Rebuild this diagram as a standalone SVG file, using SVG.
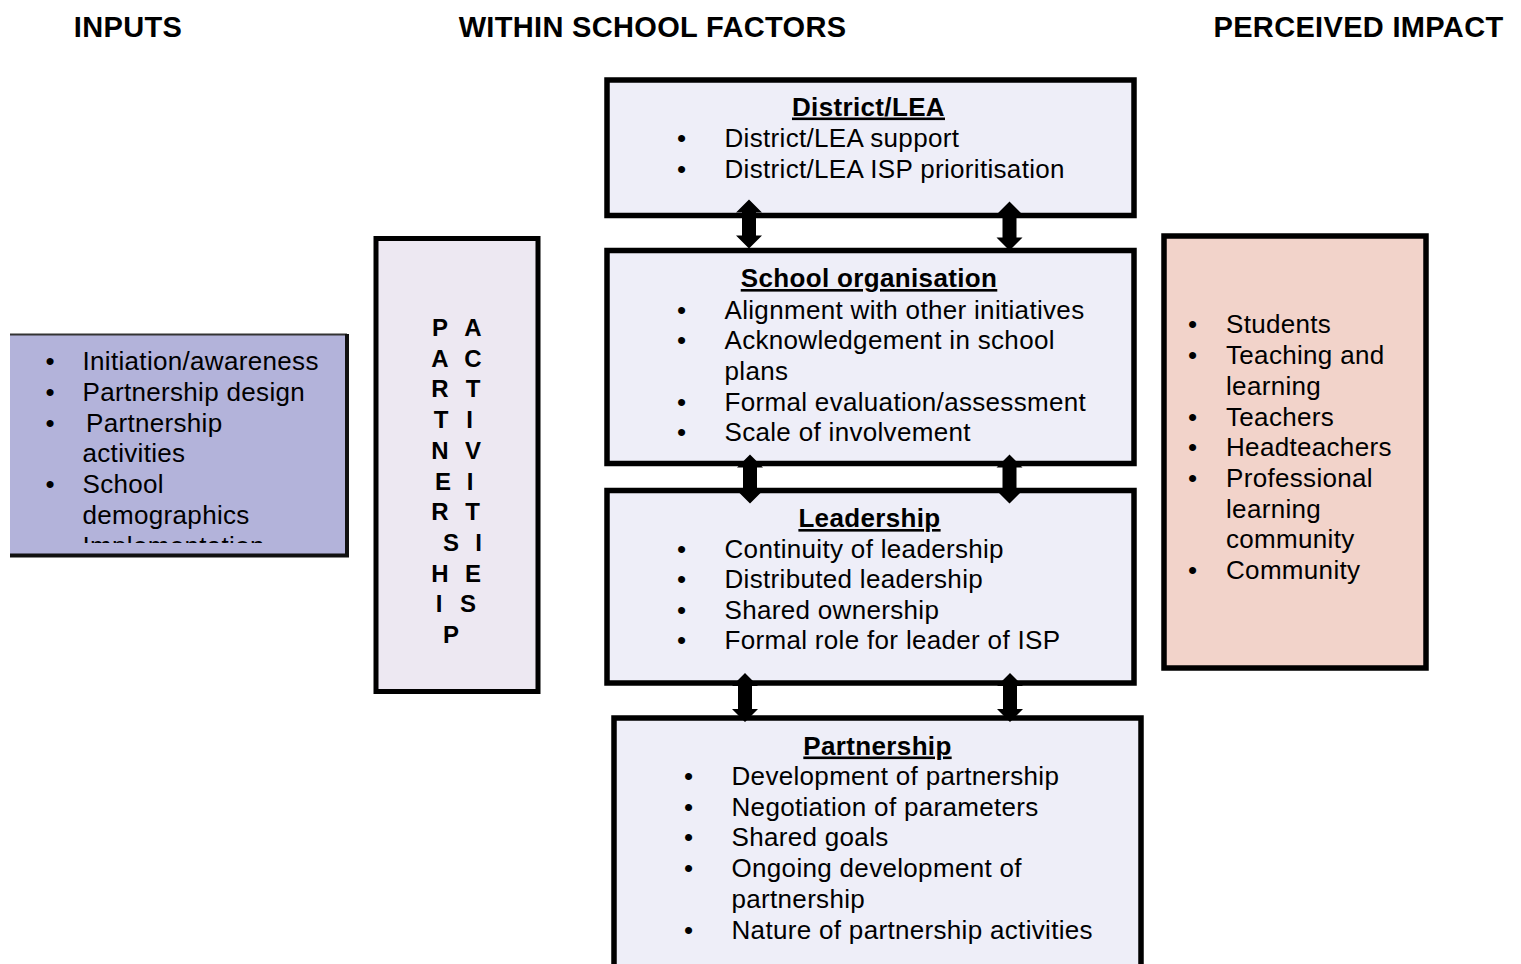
<svg xmlns="http://www.w3.org/2000/svg" xmlns:xlink="http://www.w3.org/1999/xlink" width="1521" height="964" viewBox="0 0 1521 964">
<style>
text{font-family:"Liberation Sans",Arial,Helvetica,sans-serif;fill:#000}
.hdr{font-size:29px;font-weight:bold;text-anchor:middle;letter-spacing:0.33px}
.t{font-size:26px;letter-spacing:0.32px}
.b{font-size:26px;text-anchor:middle}
.ttl{font-size:26px;font-weight:bold;text-anchor:middle;text-decoration:underline;letter-spacing:0.35px}
.let{font-size:24px;font-weight:bold;text-anchor:middle}
.box{fill:#eeeef8;stroke:#000;stroke-width:5.5}
</style>
<defs>
<path id="dbl" d="M0,0 L13,13 L7,13 L7,36 L13,36 L0,49 L-13,36 L-7,36 L-7,13 L-13,13 Z" fill="#000"/>
<clipPath id="inclip"><rect x="10" y="336" width="335" height="207"/></clipPath>
</defs>
<rect width="1521" height="964" fill="#fff"/>

<g id="headers">
<text class="hdr" x="128" y="37">INPUTS</text>
<text class="hdr" x="652.5" y="37">WITHIN SCHOOL FACTORS</text>
<text class="hdr" x="1358.5" y="37">PERCEIVED IMPACT</text>
</g>

<g id="inputs">
<rect x="10" y="335" width="337" height="219" fill="#b3b3da"/>
<path d="M10,334.5 H347" stroke="#333" stroke-width="2" fill="none"/>
<path d="M347,334 V555.5 H10" stroke="#111" stroke-width="4" fill="none"/>
<g clip-path="url(#inclip)">
<text class="b" x="50" y="370">•</text><text class="t" x="82.5" y="370">Initiation/awareness</text>
<text class="b" x="50" y="401">•</text><text class="t" x="82.5" y="401">Partnership design</text>
<text class="b" x="50" y="432">•</text><text class="t" x="86" y="432">Partnership</text>
<text class="t" x="82.5" y="462">activities</text>
<text class="b" x="50" y="493">•</text><text class="t" x="82.5" y="493">School</text>
<text class="t" x="82.5" y="524">demographics</text>
<text class="b" x="50" y="555">•</text><text class="t" x="82.5" y="555">Implementation</text>
</g>
</g>

<g id="activities">
<rect x="376" y="238.5" width="162" height="453" fill="#ede8f2" stroke="#000" stroke-width="5"/>
<text class="let" y="336"><tspan x="440">P</tspan><tspan x="473">A</tspan></text>
<text class="let" y="366.5"><tspan x="440">A</tspan><tspan x="473">C</tspan></text>
<text class="let" y="397"><tspan x="440">R</tspan><tspan x="473">T</tspan></text>
<text class="let" y="428"><tspan x="441">T</tspan><tspan x="469.5">I</tspan></text>
<text class="let" y="459"><tspan x="440">N</tspan><tspan x="473">V</tspan></text>
<text class="let" y="489.5"><tspan x="443">E</tspan><tspan x="470">I</tspan></text>
<text class="let" y="520"><tspan x="440">R</tspan><tspan x="472.5">T</tspan></text>
<text class="let" y="551"><tspan x="451">S</tspan><tspan x="478.5">I</tspan></text>
<text class="let" y="582"><tspan x="440">H</tspan><tspan x="473">E</tspan></text>
<text class="let" y="612"><tspan x="439">I</tspan><tspan x="468">S</tspan></text>
<text class="let" y="643"><tspan x="451">P</tspan></text>
</g>

<g id="district">
<rect class="box" x="607" y="80" width="527" height="135.5"/>
<text class="ttl" x="868.5" y="115.5">District/LEA</text>
<text class="b" x="681.5" y="147">•</text><text class="t" x="724.5" y="147">District/LEA support</text>
<text class="b" x="681.5" y="177.5">•</text><text class="t" x="724.5" y="177.5">District/LEA ISP prioritisation</text>
</g>

<g id="school-organisation">
<rect class="box" x="607" y="250.5" width="527" height="213"/>
<text class="ttl" x="869" y="287">School organisation</text>
<text class="b" x="681.5" y="318.5">•</text><text class="t" x="724.5" y="318.5">Alignment with other initiatives</text>
<text class="b" x="681.5" y="349">•</text><text class="t" x="724.5" y="349">Acknowledgement in school</text>
<text class="t" x="724.5" y="379.5">plans</text>
<text class="b" x="681.5" y="410.5">•</text><text class="t" x="724.5" y="410.5">Formal evaluation/assessment</text>
<text class="b" x="681.5" y="441">•</text><text class="t" x="724.5" y="441">Scale of involvement</text>
</g>

<g id="leadership">
<rect class="box" x="607" y="490.5" width="527" height="192.5"/>
<text class="ttl" x="869.5" y="527">Leadership</text>
<text class="b" x="681.5" y="557.5">•</text><text class="t" x="724.5" y="557.5">Continuity of leadership</text>
<text class="b" x="681.5" y="588">•</text><text class="t" x="724.5" y="588">Distributed leadership</text>
<text class="b" x="681.5" y="618.5">•</text><text class="t" x="724.5" y="618.5">Shared ownership</text>
<text class="b" x="681.5" y="649">•</text><text class="t" x="724.5" y="649">Formal role for leader of ISP</text>
</g>

<g id="partnership">
<rect class="box" x="614" y="718" width="527" height="270"/>
<text class="ttl" x="877.5" y="754.5">Partnership</text>
<text class="b" x="688.5" y="785">•</text><text class="t" x="731.5" y="785">Development of partnership</text>
<text class="b" x="688.5" y="815.5">•</text><text class="t" x="731.5" y="815.5">Negotiation of parameters</text>
<text class="b" x="688.5" y="846">•</text><text class="t" x="731.5" y="846">Shared goals</text>
<text class="b" x="688.5" y="877">•</text><text class="t" x="731.5" y="877">Ongoing development of</text>
<text class="t" x="731.5" y="907.5">partnership</text>
<text class="b" x="688.5" y="938.5">•</text><text class="t" x="731.5" y="938.5">Nature of partnership activities</text>
</g>

<g id="impact">
<rect x="1164" y="236" width="262" height="432" fill="#f2d3ca" stroke="#000" stroke-width="5.5"/>
<text class="b" x="1192.5" y="333">•</text><text class="t" x="1226" y="333">Students</text>
<text class="b" x="1192.5" y="364">•</text><text class="t" x="1226" y="364">Teaching and</text>
<text class="t" x="1226" y="394.5">learning</text>
<text class="b" x="1192.5" y="425.5">•</text><text class="t" x="1226" y="425.5">Teachers</text>
<text class="b" x="1192.5" y="456">•</text><text class="t" x="1226" y="456">Headteachers</text>
<text class="b" x="1192.5" y="487">•</text><text class="t" x="1226" y="487">Professional</text>
<text class="t" x="1226" y="517.5">learning</text>
<text class="t" x="1226" y="548">community</text>
<text class="b" x="1192.5" y="578.5">•</text><text class="t" x="1226" y="578.5">Community</text>
</g>

<g id="connectors">
<use xlink:href="#dbl" x="749" y="199.5"/>
<use xlink:href="#dbl" x="1009.5" y="201.5"/>
<use xlink:href="#dbl" x="750" y="454.5"/>
<use xlink:href="#dbl" x="1009.5" y="454.5"/>
<use xlink:href="#dbl" x="745" y="673"/>
<use xlink:href="#dbl" x="1010" y="673"/>
</g>
</svg>
